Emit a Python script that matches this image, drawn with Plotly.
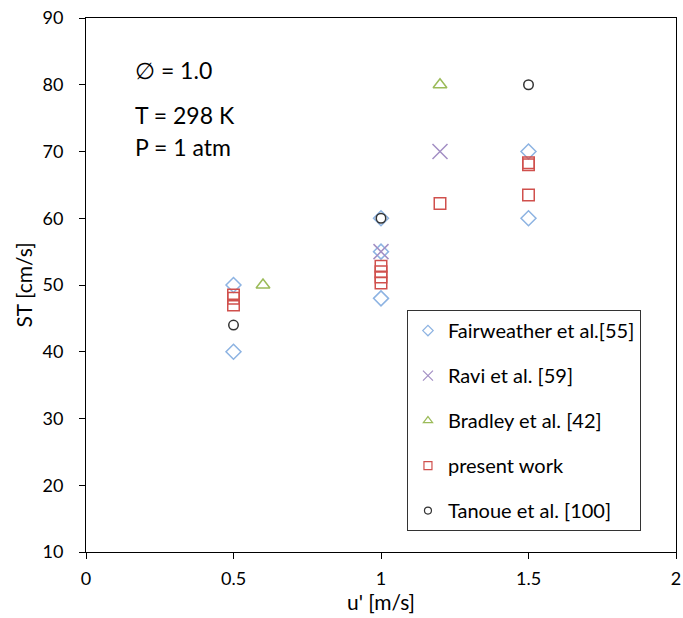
import plotly.graph_objects as go

# Turbulent flame speed ST versus rms velocity u'
fair_u = [0.5, 0.5, 1.0, 1.0, 1.0, 1.5, 1.5]
fair_st = [50, 40, 60, 55, 48, 70, 60]

ravi_u = [1.0, 1.2]
ravi_st = [55, 70]

bradley_u = [0.6, 1.2]
bradley_st = [50, 80]

present_u = [0.5, 0.5, 0.5, 1.0, 1.0, 1.0, 1.0, 1.2, 1.5, 1.5, 1.5]
present_st = [48.5, 48, 47, 52.8, 52, 51.2, 50.3, 62.2, 68, 68.3, 63.5]

tanoue_u = [0.5, 1.0, 1.5]
tanoue_st = [44, 60, 80]

series = [
    ("Fairweather et al.[55]", fair_u, fair_st, "diamond-open", "#8DB3E2", 11.5, 8),
    ("Ravi et al. [59]", ravi_u, ravi_st, "x-thin-open", "#A38FC4", 15, 10),
    ("Bradley et al. [42]", bradley_u, bradley_st, "triangle-up-open", "#9BBB59", 12, 8),
    ("present work", present_u, present_st, "square-open", "#D0504D", 11.5, 8),
    ("Tanoue et al. [100]", tanoue_u, tanoue_st, "circle-open", "#333333", 9.5, 7),
]

FONT = "Lato, Carlito, 'Liberation Sans', sans-serif"

fig = go.Figure()
for i, (name, xs, ys, sym, col, size, lsize) in enumerate(series):
    fig.add_trace(go.Scatter(
        x=xs, y=ys, mode="markers", name=name, showlegend=False,
        marker=dict(symbol=sym, size=size, color=col, line=dict(color=col, width=1.5)),
    ))
    # smaller marker used for the legend entry
    fig.add_trace(go.Scatter(
        x=[None], y=[None], mode="markers", name=name, legendgroup=f"g{i}",
        marker=dict(symbol=sym, size=lsize, color=col, line=dict(color=col, width=1.2)),
    ))

fig.update_layout(
    width=683, height=618,
    margin=dict(l=86, r=7, t=18, b=66),
    paper_bgcolor="white", plot_bgcolor="white",
    font=dict(family=FONT, size=18, color="#000000"),
    xaxis=dict(
        range=[0, 2], tickvals=[0, 0.5, 1, 1.5, 2], ticktext=["0", "0.5", "1", "1.5", "2"],
        showgrid=False, zeroline=False, showline=True, linecolor="#000000", linewidth=1,
        mirror=True, ticks="outside", ticklen=6, tickcolor="#000000",
        ticklabelstandoff=4, automargin=False,
        title=dict(text="u' [m/s]", font=dict(size=21, family=FONT), standoff=2),
    ),
    yaxis=dict(
        range=[10, 90], tickvals=[10, 20, 30, 40, 50, 60, 70, 80, 90],
        showgrid=False, zeroline=False, showline=True, linecolor="#000000", linewidth=1,
        mirror=True, ticks="outside", ticklen=6, tickcolor="#000000",
        ticklabelstandoff=12, automargin=False,
        title=dict(text="ST [cm/s]", font=dict(size=21, family=FONT), standoff=4),
    ),
    legend=dict(
        x=0.544, y=0.453, xanchor="left", yanchor="top",
        bordercolor="#333333", borderwidth=1, bgcolor="white",
        font=dict(size=20), traceorder="grouped", tracegroupgap=16,
        itemwidth=30,
    ),
)

notes = [("\u2205 = 1.0", 70), ("T = 298 K", 115), ("P = 1 atm", 147)]
for txt, ypix in notes:
    fig.add_annotation(
        xref="paper", yref="paper", x=(133 - 86) / 590, y=(552 - ypix) / 534,
        xanchor="left", yanchor="middle", text=txt, showarrow=False,
        font=dict(size=23, family=FONT, color="#000000"),
    )

fig.write_html("out.html")
